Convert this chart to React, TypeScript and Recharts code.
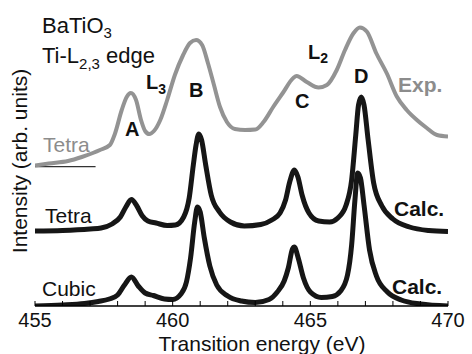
import React from 'react';
import { LineChart, Line, XAxis, YAxis, ReferenceLine } from 'recharts';

// Ti-L2,3 edge of BaTiO3: experiment (offset) + two calculations (offset)
const expEnergy = [455.0, 455.5, 456.2, 456.7, 457.1, 457.36, 457.72, 457.9, 458.15, 458.33, 458.48, 458.67, 458.85, 459.0, 459.15, 459.32, 459.55, 459.8, 460.08, 460.38, 460.63, 460.85, 461.07, 461.28, 461.5, 461.72, 461.97, 462.26, 462.63, 463.0, 463.3, 463.65, 464.0, 464.38, 464.5, 464.87, 465.3, 465.6, 465.96, 466.26, 466.56, 466.8, 467.05, 467.4, 467.78, 468.14, 468.5, 468.87, 469.23, 469.6, 470.0];
const expIntensity = [140.5, 142.5, 145, 149, 153, 156, 161, 172, 196, 209, 213, 206, 186, 175, 172, 175, 186, 206, 231, 251, 263, 266, 261, 243, 221, 199, 184, 177, 176, 176.5, 184, 199, 213, 228, 230, 224, 218.5, 221, 236, 256, 272.5, 278.5, 274.5, 252.5, 232.5, 209.5, 196, 186, 178, 171, 169.5];

const tetraEnergy = [455.0, 456.0, 457.0, 457.4, 457.8, 458.1, 458.3, 458.5, 458.7, 458.9, 459.1, 459.4, 459.8, 460.1, 460.4, 460.6, 460.75, 460.85, 460.95, 461.05, 461.2, 461.4, 461.7, 462.1, 462.6, 463.2, 463.6, 463.9, 464.1, 464.25, 464.42, 464.55, 464.7, 464.95, 465.3, 465.7, 466.0, 466.3, 466.5, 466.65, 466.75, 466.85, 466.95, 467.1, 467.3, 467.6, 468.0, 468.6, 469.3, 470.0];
const tetraIntensity = [75, 75.5, 77, 78, 82, 89, 99, 106.5, 100, 90, 85, 83, 80.5, 81, 89, 108, 141, 161, 172, 166, 141, 111, 94, 84, 80, 81.5, 86, 93, 106, 124, 136, 129, 111, 93, 85, 84, 88, 101, 126, 171, 201, 209, 201, 166, 123, 100, 87, 79, 75.5, 74.5];

const cubicEnergy = [455.0, 456.0, 456.8, 457.3, 457.7, 458.0, 458.25, 458.5, 458.75, 459.0, 459.3, 459.7, 460.0, 460.3, 460.5, 460.65, 460.8, 460.9, 461.0, 461.15, 461.35, 461.6, 462.0, 462.5, 463.0, 463.5, 463.8, 464.05, 464.2, 464.35, 464.42, 464.55, 464.75, 465.0, 465.4, 465.8, 466.1, 466.35, 466.5, 466.62, 466.72, 466.82, 466.95, 467.15, 467.4, 467.8, 468.3, 469.0, 470.0];
const cubicIntensity = [0, 1, 2.5, 4.5, 7, 11, 21, 29, 20, 13, 10.5, 7, 6.5, 12, 24, 48, 84, 99, 94, 68, 40, 21, 10, 5, 3.5, 6.5, 14, 25, 38, 57, 59, 49, 28, 14, 8.5, 9.5, 15, 31, 61, 106, 133, 128, 101, 56, 30, 14, 6, 2, 0];

const xTicks = [455, 456, 457, 458, 459, 460, 461, 462, 463, 464, 465, 466, 467, 468, 469, 470];

const toPoints = (xs: number[], ys: number[]) =>
  xs.map((e, i) => ({ energy: e, intensity: ys[i] }));

const expData = toPoints(expEnergy, expIntensity);
const tetraData = toPoints(tetraEnergy, tetraIntensity);
const cubicData = toPoints(cubicEnergy, cubicIntensity);

const FONT = '"Liberation Sans", Arial, Helvetica, sans-serif';
const GRAY = '#939393';
const BLACK = '#161616';

const App: React.FC = () => {
  return (
    <div style={{ position: 'absolute', left: 0, top: 0, width: 472, height: 354, background: '#fff', fontFamily: FONT }}>
      <LineChart
        width={472}
        height={354}
        margin={{ top: 11, right: 24, bottom: 0, left: 35 }}
      >
        <XAxis
          xAxisId="bottom"
          dataKey="energy"
          type="number"
          domain={[455, 470]}
          ticks={xTicks}
          interval={0}
          height={48}
          allowDataOverflow
          axisLine={{ stroke: '#000', strokeWidth: 1.3 }}
          tickLine={{ stroke: '#000', strokeWidth: 1 }}
          tickSize={-5}
          tickMargin={12}
          tick={{ fontSize: 20, fill: '#111', fontFamily: FONT }}
          tickFormatter={(v: number) => (v % 5 === 0 ? String(v) : '')}
        />
        <XAxis
          xAxisId="top"
          orientation="top"
          type="number"
          domain={[455, 470]}
          ticks={xTicks}
          interval={0}
          height={0}
          allowDataOverflow
          axisLine={{ stroke: '#000', strokeWidth: 1.3 }}
          tickLine={{ stroke: '#000', strokeWidth: 1 }}
          tickSize={-5}
          tick={false}
        />
        <YAxis
          yAxisId="left"
          type="number"
          domain={[0, 295]}
          width={0}
          tick={false}
          tickLine={false}
          allowDataOverflow
          axisLine={{ stroke: '#000', strokeWidth: 1.3 }}
        />
        <YAxis
          yAxisId="right"
          orientation="right"
          type="number"
          domain={[0, 1]}
          width={0}
          tick={false}
          tickLine={false}
          axisLine={{ stroke: '#000', strokeWidth: 1.3 }}
        />
        <ReferenceLine
          xAxisId="bottom"
          yAxisId="left"
          segment={[{ x: 455, y: 139.3 }, { x: 457.2, y: 139.3 }]}
          stroke="#333"
          strokeWidth={1.2}
        />
        <Line
          xAxisId="bottom"
          yAxisId="left"
          data={expData}
          dataKey="intensity"
          type="monotone"
          stroke={GRAY}
          strokeWidth={4}
          dot={false}
          isAnimationActive={false}
        />
        <Line
          xAxisId="bottom"
          yAxisId="left"
          data={tetraData}
          dataKey="intensity"
          type="monotone"
          stroke={BLACK}
          strokeWidth={5}
          dot={false}
          isAnimationActive={false}
        />
        <Line
          xAxisId="bottom"
          yAxisId="left"
          data={cubicData}
          dataKey="intensity"
          type="monotone"
          stroke={BLACK}
          strokeWidth={5}
          dot={false}
          isAnimationActive={false}
        />
      </LineChart>

      {/* annotations */}
      <svg
        width={472}
        height={354}
        style={{ position: 'absolute', left: 0, top: 0, pointerEvents: 'none' }}
        fontFamily={FONT}
      >
        <text x={42} y={33} fontSize={22} fill="#111">
          BaTiO<tspan dy={5} fontSize={15}>3</tspan>
        </text>
        <text x={42} y={63} fontSize={22} fill="#111">
          Ti-L<tspan dy={6} fontSize={15}>2,3</tspan><tspan dy={-6}> edge</tspan>
        </text>

        <text x={146} y={89} fontSize={20} fontWeight="bold" fill="#111">
          L<tspan dy={5} fontSize={14}>3</tspan>
        </text>
        <text x={308} y={59} fontSize={20} fontWeight="bold" fill="#111">
          L<tspan dy={4} fontSize={14}>2</tspan>
        </text>
        <text x={125} y={136} fontSize={20} fontWeight="bold" fill="#111">A</text>
        <text x={189} y={97} fontSize={20} fontWeight="bold" fill="#111">B</text>
        <text x={295} y={108} fontSize={20} fontWeight="bold" fill="#111">C</text>
        <text x={354} y={83} fontSize={20} fontWeight="bold" fill="#111">D</text>
        <text x={398} y={92} fontSize={21} fontWeight="bold" fill="#8c8c8c">Exp.</text>

        <text x={43} y={152} fontSize={21} fill="#8c8c8c">Tetra</text>
        <text x={45} y={223} fontSize={21} fill="#111">Tetra</text>
        <text x={42} y={296} fontSize={21} fill="#111">Cubic</text>
        <text x={394} y={216} fontSize={21} fontWeight="bold" fill="#111">Calc.</text>
        <text x={392} y={294} fontSize={21} fontWeight="bold" fill="#111">Calc.</text>

        <text
          x={27}
          y={161}
          fontSize={21}
          fill="#111"
          textAnchor="middle"
          transform="rotate(-90 27 161)"
        >
          Intensity (arb. units)
        </text>
        <text x={262} y={351} fontSize={21} fill="#111" textAnchor="middle">
          Transition energy (eV)
        </text>
      </svg>
    </div>
  );
};

export default App;
